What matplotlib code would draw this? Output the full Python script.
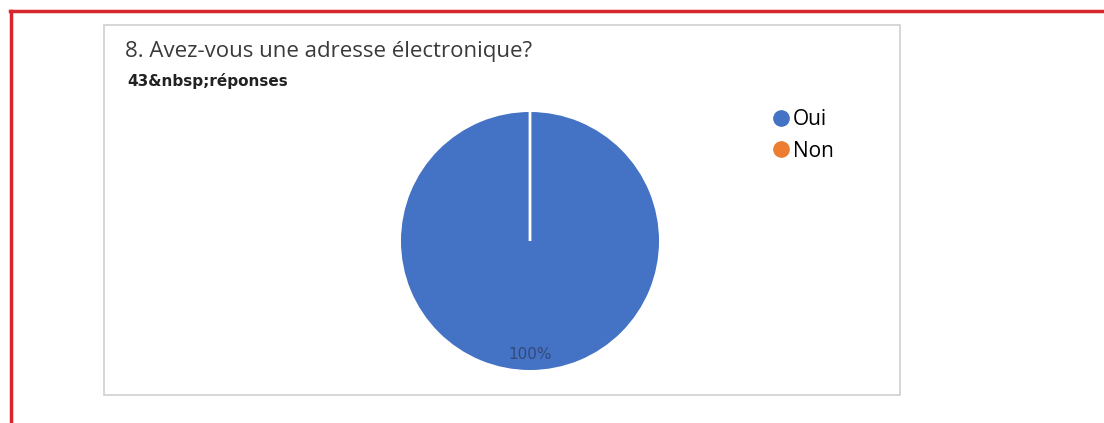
import matplotlib.pyplot as plt
import matplotlib.patches as patches
from matplotlib.lines import Line2D

# data
labels = ["Oui", "Non"]
counts = [43, 0]
colors = ["#4472C4", "#ED7D31"]
title = "8. Avez-vous une adresse électronique?"
subtitle = "43&nbsp;réponses"

W, H = 1104, 423
fig = plt.figure(figsize=(W / 100, H / 100), dpi=100)
fig.patch.set_facecolor("white")


def fx(px):
    return px / W


def fy(py):
    return 1 - py / H


# red frame (only top and left visible)
fig.add_artist(Line2D([fx(10), 1.0], [fy(11), fy(11)], color="#d7262c", lw=2.5))
fig.add_artist(Line2D([fx(11), fx(11)], [fy(11), 0.0], color="#d7262c", lw=2.5))

# chart box
fig.add_artist(patches.Rectangle((fx(104), fy(395)), fx(900) - fx(104), fy(25) - fy(395),
                                 transform=fig.transFigure, fill=False,
                                 edgecolor="#d0d0d0", lw=1.2))

fig.text(fx(125), fy(51), title, fontsize=16, family="Open Sans",
         color="#3a3a3a", va="center", ha="left")
fig.text(fx(127), fy(81), subtitle, fontsize=11, family="DejaVu Sans",
         weight="bold", color="#222222", va="center", ha="left")

# pie
cx, cy, r = 530, 241, 133
ax = fig.add_axes([fx(cx - r), fy(cy + r), 2 * r / W, 2 * r / H])


def pct(v):
    return f"{v:.0f}%" if v > 0 else ""


wedges, texts, autotexts = ax.pie(counts, colors=colors, startangle=90, counterclock=False,
                                  autopct=pct, pctdistance=0.87, radius=1.0,
                                  wedgeprops=dict(edgecolor="white", linewidth=2))
for t in autotexts:
    t.set_color("#34497a")
    t.set_fontsize(11)
ax.set_xlim(-1.02, 1.02)
ax.set_ylim(-1.02, 1.02)
ax.set_aspect("equal")
ax.axis("off")

handles = [Line2D([], [], marker="o", linestyle="none", markersize=11,
                  markerfacecolor=c, markeredgecolor=c) for c in colors]
fig.legend(handles, labels, loc="upper left", bbox_to_anchor=(fx(762), fy(101)),
           frameon=False, prop=dict(family="Open Sans", size=15),
           handletextpad=0.1, labelspacing=0.5, borderaxespad=0, handlelength=1.0)

fig.savefig("out.png", dpi=100, facecolor="white")
